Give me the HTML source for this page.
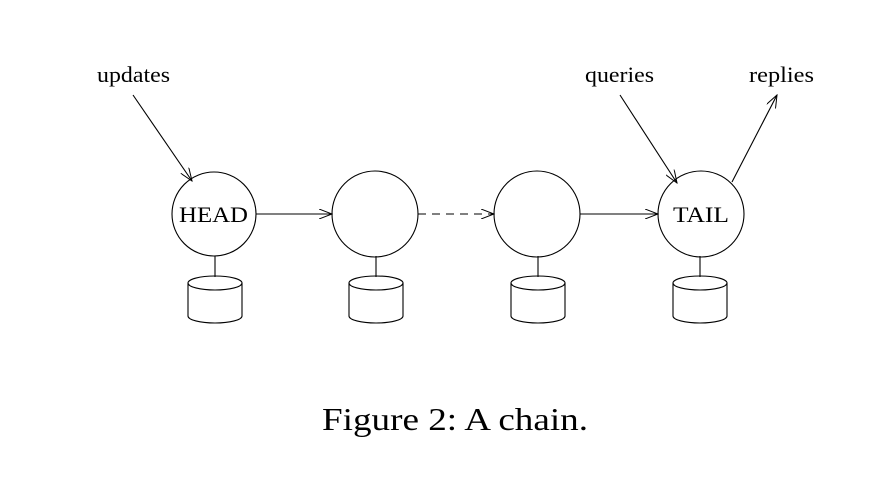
<!DOCTYPE html>
<html><head><style>body{margin:0;background:#fff}svg{display:block}</style></head><body>
<svg width="876" height="498" viewBox="0 0 876 498" xmlns="http://www.w3.org/2000/svg" font-family="Liberation Serif, serif">
<defs><marker id="a" markerWidth="14" markerHeight="10" refX="13" refY="5" orient="auto" markerUnits="userSpaceOnUse"><path d="M0,0 L13,5 L0,10" fill="none" stroke="#000" stroke-width="1"/></marker></defs>
<g fill="none" stroke="#000" stroke-width="1.1">
<circle cx="214" cy="214" r="42"/>
<circle cx="375" cy="214" r="43"/>
<circle cx="537" cy="214" r="43"/>
<circle cx="701" cy="214" r="43"/>
<line x1="256" y1="214" x2="332" y2="214" marker-end="url(#a)"/>
<line x1="418" y1="214" x2="494" y2="214" stroke-dasharray="8,6" marker-end="url(#a)"/>
<line x1="580" y1="214" x2="658" y2="214" marker-end="url(#a)"/>
<line x1="133" y1="95" x2="192" y2="181" marker-end="url(#a)"/>
<line x1="620" y1="95" x2="677" y2="183" marker-end="url(#a)"/>
<line x1="732" y1="182" x2="777" y2="95" marker-end="url(#a)"/>
<g id="c">
<line x1="215" y1="256" x2="215" y2="277"/>
<ellipse cx="215" cy="283" rx="27" ry="7"/>
<path d="M188,283 V316 A27,7 0 0 0 242,316 V283"/>
</g>
<use href="#c" x="161"/><use href="#c" x="323"/><use href="#c" x="485"/>
</g>
<g font-size="22" fill="#000">
<text x="97" y="82" textLength="73" lengthAdjust="spacingAndGlyphs">updates</text>
<text x="585" y="82" textLength="69" lengthAdjust="spacingAndGlyphs">queries</text>
<text x="749" y="82" textLength="65" lengthAdjust="spacingAndGlyphs">replies</text>
<text x="179" y="222" textLength="69" lengthAdjust="spacingAndGlyphs">HEAD</text>
<text x="673" y="222" textLength="56" lengthAdjust="spacingAndGlyphs">TAIL</text>
</g>
<text x="322" y="430" font-size="32" textLength="266" lengthAdjust="spacingAndGlyphs">Figure 2:  A chain.</text>
</svg>
</body></html>
